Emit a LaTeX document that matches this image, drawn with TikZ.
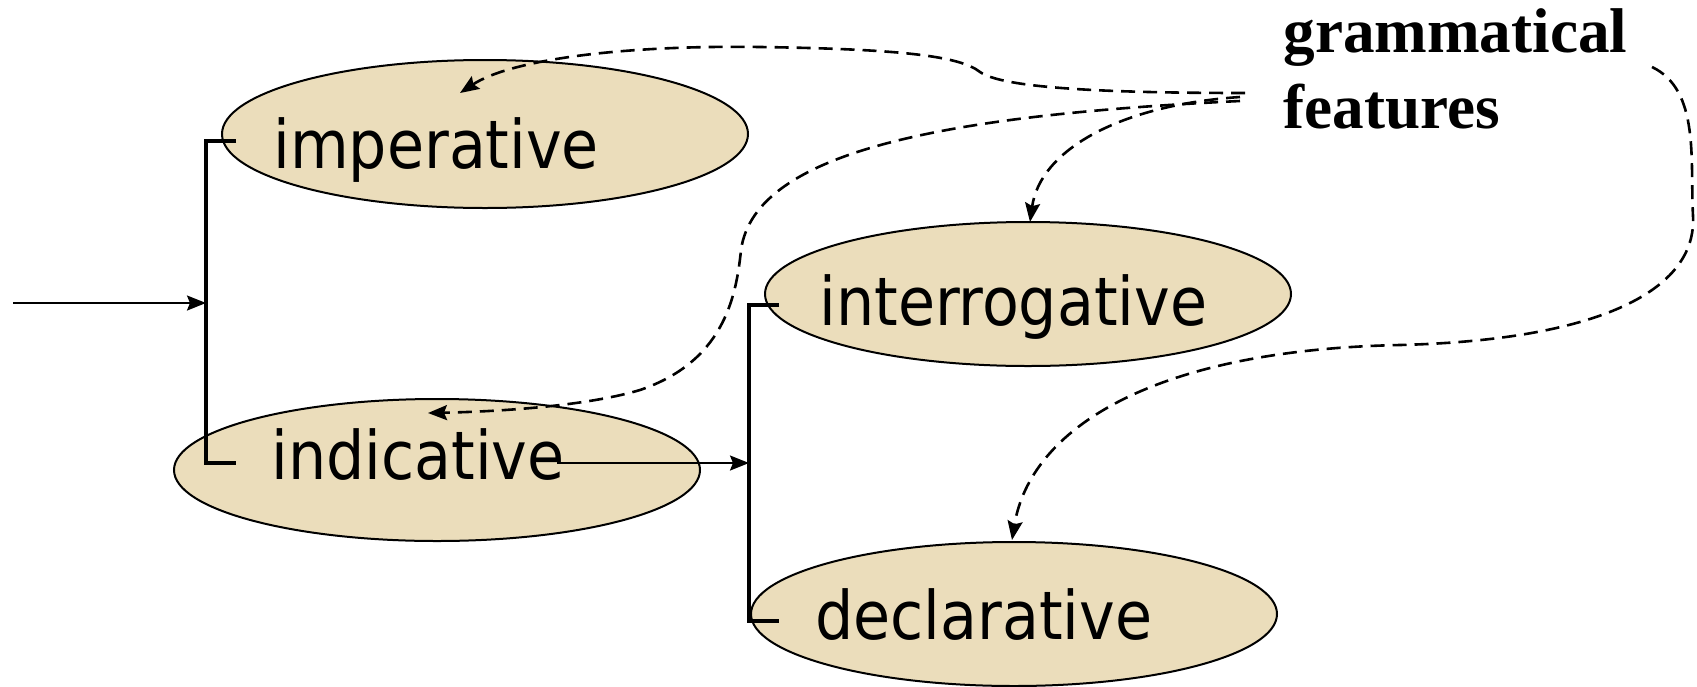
\documentclass[tikz,border=0pt]{standalone}
\usepackage{fontspec}
\newfontfamily\moodfont{DejaVu Sans Condensed}
\newfontfamily\notefont{Liberation Serif}
\usetikzlibrary{shapes.geometric,arrows.meta}
\definecolor{parchment}{RGB}{235,221,187}
\begin{document}
\begin{tikzpicture}[x=0.5pt,y=-0.5pt,
  mood/.style={ellipse,draw=black,line width=1pt,fill=parchment,inner sep=0pt,
               minimum width=263pt,minimum height=72pt},
  moodtext/.style={anchor=base west,inner sep=0pt,font=\moodfont\fontsize{33.5}{40}\selectfont},
  bracket/.style={line width=2pt},
  feed/.style={line width=1pt,-{Stealth[length=9.5pt,width=7.5pt,inset=1.5pt]}},
  feature/.style={dash pattern=on 7pt off 4pt,line width=1.3pt,
                  -{Stealth[length=9.5pt,width=7.5pt,inset=1.5pt]}}
]
\useasboundingbox (0,0) rectangle (1697,686);

% mood options
\node[mood,minimum height=74pt] (imp) at (485,134) {};
\node[mood,minimum height=71pt] (ind) at (437,470) {};
\node[mood] (int) at (1028,294) {};
\node[mood] (dec) at (1014,614) {};

\node[moodtext] (impt) at (273,168) {imperative};
\node[moodtext] (indt) at (271,479) {indicative};
\node[moodtext] (intt) at (819,325) {interrogative};
\node[moodtext] (dect) at (815,639) {declarative};

% label for the realisations (base = baseline of the last line)
\node[anchor=base west,inner sep=0pt,align=left,
      font=\notefont\bfseries\fontsize{31.6}{38}\selectfont] (gf) at (1283,128)
      {grammatical\\features};

% system brackets
\coordinate (b1a) at (236,141);
\coordinate (b1b) at (206,141);
\coordinate (b1c) at (206,463);
\coordinate (b1d) at (236,463);
\draw[bracket] (b1a) -- (b1b) -- (b1c) -- (b1d);

\coordinate (b2a) at (779,305);
\coordinate (b2b) at (749,305);
\coordinate (b2c) at (749,621);
\coordinate (b2d) at (779,621);
\draw[bracket] (b2a) -- (b2b) -- (b2c) -- (b2d);

% entry conditions
\coordinate (entry) at (13,303);
\coordinate (j1) at (206,303);
\draw[feed] (entry) -- (j1);
\coordinate (indout) at (557,463);
\coordinate (j2) at (749,463);
\draw[feed] (indout) -- (j2);

% realisation links
\coordinate (srcA) at (1245,93);
\coordinate (srcB) at (1240,101);
\coordinate (srcC) at (1240,97);
\coordinate (srcD) at (1652,67);
\coordinate (tipA) at (460,93);
\coordinate (tipB) at (428,413);
\coordinate (tipC) at (1030,222);
\coordinate (tipD) at (1012,540);

\draw[feature] (srcA) .. controls (1080,93) and (1000,86) .. (980,72)
  .. controls (960,56) and (900,49) .. (760,47)
  .. controls (620,45) and (510,60) .. (tipA);
\draw[feature] (srcB) .. controls (950,115) and (755,150) .. (741,250)
  .. controls (736,300) and (722,362) .. (640,390)
  .. controls (580,408) and (480,412) .. (tipB);
\draw[feature] (srcC) .. controls (1120,105) and (1040,150) .. (tipC);
\draw[feature] (srcD) .. controls (1700,90) and (1690,160) .. (1693,216)
  .. controls (1697,290) and (1600,340) .. (1400,345)
  .. controls (1150,350) and (1030,430) .. (tipD);
\end{tikzpicture}
\end{document}
